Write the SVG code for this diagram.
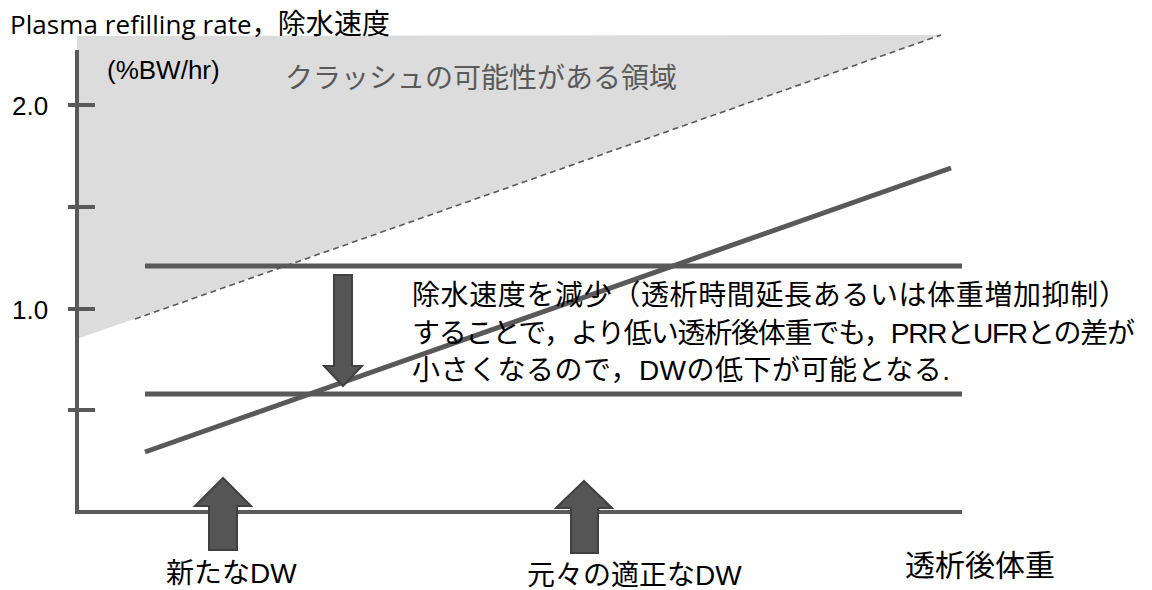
<svg xmlns="http://www.w3.org/2000/svg" width="1152" height="590" viewBox="0 0 1152 590">
<style>
.t{font-family:"Liberation Sans","Noto Sans CJK JP",sans-serif;fill:#000}
.o{font-family:"Open Sans","Noto Sans CJK JP",sans-serif;fill:#000}
.ln{stroke:#595959;stroke-width:5;fill:none}
.ax{stroke:#595959;stroke-width:4;fill:none}
.arr{fill:#555555;stroke:#404040;stroke-width:2}
</style>
<rect width="1152" height="590" fill="#ffffff"/>
<g id="crash-region">
<polygon points="77,36 941,35 77,339" fill="#dcdcdc"/>
<line x1="135" y1="319" x2="941" y2="35" stroke="#595959" stroke-width="1.6" stroke-dasharray="6,4"/>
<text class="t" x="285" y="88" font-size="28" style="fill:#595959">クラッシュの可能性がある領域</text>
</g>
<g id="axes">
<line class="ax" x1="77" y1="50" x2="77" y2="514"/>
<line class="ax" x1="75" y1="512" x2="962" y2="512"/>
<line class="ax" x1="68" y1="105" x2="95" y2="105"/>
<line class="ax" x1="68" y1="207" x2="95" y2="207"/>
<line class="ax" x1="68" y1="309" x2="95" y2="309"/>
<line class="ax" x1="68" y1="410" x2="95" y2="410"/>
<text class="o" x="10" y="34" font-size="26" textLength="380" lengthAdjust="spacing">Plasma refilling rate，<tspan font-size="28">除水速度</tspan></text>
<text class="t" x="107" y="79" font-size="26">(%BW/hr)</text>
<text class="t" x="12" y="115" font-size="26">2.0</text>
<text class="t" x="12" y="319" font-size="26">1.0</text>
<text class="t" x="905" y="576" font-size="30">透析後体重</text>
</g>
<g id="connectors">
<line class="ln" x1="145" y1="266" x2="962" y2="266"/>
<line class="ln" x1="145" y1="394" x2="962" y2="394"/>
<line class="ln" x1="145" y1="452" x2="951" y2="168"/>
</g>
<g id="down-arrow">
<polygon class="arr" points="334,275 352,275 352,366 362,366 343,386 324,366 334,366"/>
</g>
<g id="explanation">
<text class="t" x="412" y="305" font-size="28" textLength="715" lengthAdjust="spacing">除水速度を減少（透析時間延長あるいは体重増加抑制）</text>
<text class="t" x="412" y="343" font-size="28" textLength="723" lengthAdjust="spacing">することで，より低い透析後体重でも，PRRとUFRとの差が</text>
<text class="t" x="412" y="380" font-size="28" textLength="538" lengthAdjust="spacing">小さくなるので，DWの低下が可能となる.</text>
</g>
<g id="new-dw">
<polygon class="arr" points="223,478 251,506 237,506 237,550 209,550 209,506 195,506"/>
<text class="t" x="166" y="583" font-size="28">新たなDW</text>
</g>
<g id="original-dw">
<polygon class="arr" points="584,481 612,508 598,508 598,553 571,553 571,508 556,508"/>
<text class="t" x="527" y="585" font-size="28">元々の適正なDW</text>
</g>
</svg>
